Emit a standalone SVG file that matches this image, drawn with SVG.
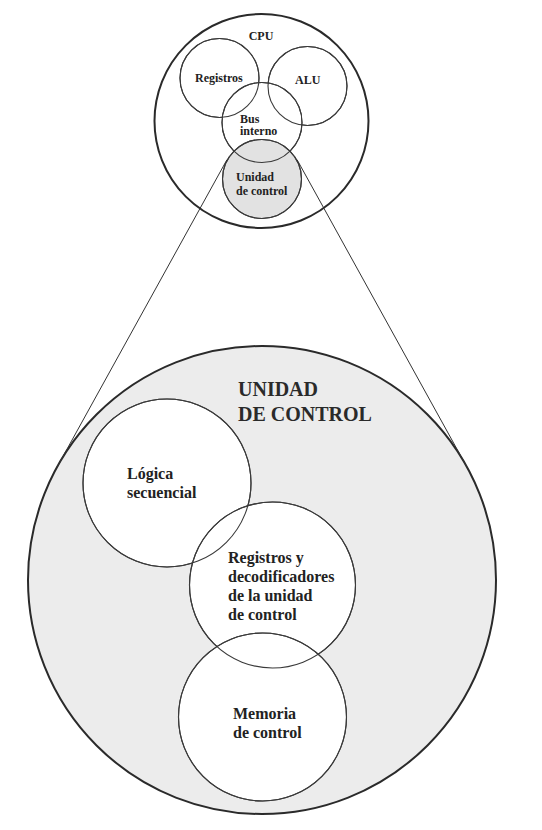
<svg xmlns="http://www.w3.org/2000/svg" width="542" height="830" viewBox="0 0 542 830">
<style>
  .t{font-family:"Liberation Serif","Times New Roman",serif;font-weight:bold;fill:#222}
  .s{font-size:12px}
  .m{font-size:16px}
  .big{font-size:20px;fill:#2a2a2a}
  .thin{stroke:#3a3a3a;stroke-width:1.1}
  .thick{stroke:#2a2a2a;stroke-width:2}
  .ol{fill:none}
  .conn{stroke:#333;stroke-width:1;fill:none}
</style>
<rect width="542" height="830" fill="#ffffff"/>
<g id="cpu">
  <circle cx="261.5" cy="121" r="107" fill="#ffffff" class="thick"/>
  <text class="t s" x="261" y="40" text-anchor="middle">CPU</text>
</g>
<g id="registros">
  <circle cx="219.5" cy="78" r="39.5" fill="#ffffff" class="thin"/>
</g>
<g id="alu">
  <circle cx="307.5" cy="86" r="39.5" fill="#ffffff" class="thin"/>
</g>
<g id="bus-interno">
  <circle cx="262" cy="122.5" r="40" fill="#ffffff" class="thin"/>
</g>
<g id="unidad-control-small">
  <circle cx="262" cy="179" r="39.5" fill="#e2e2e2" class="thin"/>
</g>
<g id="top-outlines" class="thin ol">
  <circle cx="219.5" cy="78" r="39.5"/>
  <circle cx="307.5" cy="86" r="39.5"/>
  <circle cx="262" cy="122.5" r="40"/>
  <circle cx="262" cy="179" r="39.5"/>
</g>
<g id="top-labels">
  <text class="t s" x="195" y="81.5">Registros</text>
  <text class="t s" x="295" y="83.5">ALU</text>
  <text class="t s" x="240" y="122.5">Bus</text>
  <text class="t s" x="240" y="135">interno</text>
  <text class="t s" x="236" y="181">Unidad</text>
  <text class="t s" x="236" y="195">de control</text>
</g>
<g id="unidad-control-big">
  <circle cx="262" cy="580" r="234" fill="#ececec" class="thick"/>
  <text class="t big" x="238" y="396">UNIDAD</text>
  <text class="t big" x="238" y="421">DE CONTROL</text>
</g>
<g id="connectors">
  <line class="conn" x1="227" y1="159.6" x2="57.3" y2="466.7"/>
  <line class="conn" x1="297" y1="159.6" x2="466.7" y2="466.7"/>
</g>
<g id="logica-secuencial">
  <circle cx="167" cy="483" r="84" fill="#ffffff" class="thin"/>
</g>
<g id="registros-decodificadores">
  <circle cx="272.5" cy="585" r="83" fill="#ffffff" class="thin"/>
</g>
<g id="memoria-control">
  <circle cx="262.5" cy="717" r="84" fill="#ffffff" class="thin"/>
</g>
<g id="big-outlines" class="thin ol">
  <circle cx="167" cy="483" r="84"/>
  <circle cx="272.5" cy="585" r="83"/>
  <circle cx="262.5" cy="717" r="84"/>
</g>
<g id="big-labels">
  <text class="t m" x="127" y="479">Lógica</text>
  <text class="t m" x="127" y="498">secuencial</text>
  <text class="t m" x="228" y="563">Registros y</text>
  <text class="t m" x="228" y="582">decodificadores</text>
  <text class="t m" x="228" y="601">de la unidad</text>
  <text class="t m" x="228" y="620">de control</text>
  <text class="t m" x="233" y="719">Memoria</text>
  <text class="t m" x="233" y="738">de control</text>
</g>
</svg>
